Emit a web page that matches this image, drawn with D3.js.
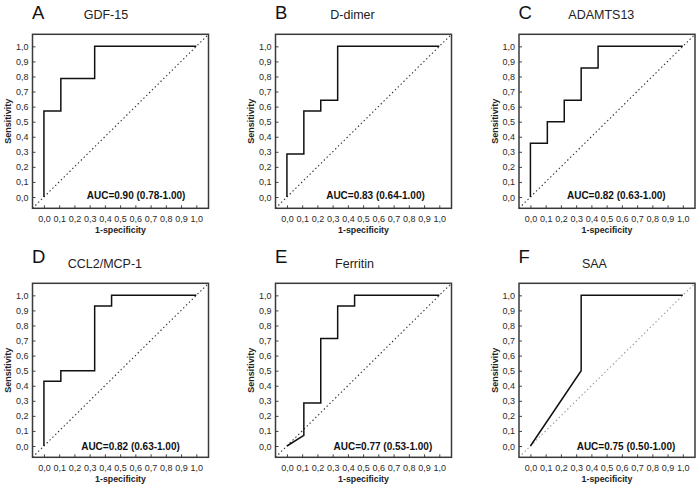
<!DOCTYPE html>
<html>
<head>
<meta charset="utf-8">
<script src="https://cdn.jsdelivr.net/npm/d3@7"></script>
<style>
  body { margin: 0; background: #fff; }
  svg { display: block; font-family: "Liberation Sans", Arial, sans-serif; }
</style>
</head>
<body>
<svg id="chart"></svg>
<script>
// panel ids and marker names
const letters = ["A", "B", "C", "D", "E", "F"];
const markers = ["GDF-15", "D-dimer", "ADAMTS13", "CCL2/MCP-1", "Ferritin", "SAA"];
const aucLabels = [
  "AUC=0.90 (0.78-1.00)",
  "AUC=0.83 (0.64-1.00)",
  "AUC=0.82 (0.63-1.00)",
  "AUC=0.82 (0.63-1.00)",
  "AUC=0.77 (0.53-1.00)",
  "AUC=0.75 (0.50-1.00)"
];

// ROC points, 1-specificity (x) and sensitivity (y)
const rocX = [
  [0, 0, 0.111, 0.111, 0.333, 0.333, 1],
  [0, 0, 0.111, 0.111, 0.222, 0.222, 0.333, 0.333, 1],
  [0, 0, 0.111, 0.111, 0.222, 0.222, 0.333, 0.333, 0.444, 0.444, 1],
  [0, 0, 0.111, 0.111, 0.333, 0.333, 0.444, 0.444, 1],
  [0, 0.111, 0.111, 0.222, 0.222, 0.333, 0.333, 0.444, 0.444, 1],
  [0, 0.333, 0.333, 1]
];
const rocY = [
  [0, 0.571, 0.571, 0.786, 0.786, 1, 1],
  [0, 0.286, 0.286, 0.571, 0.571, 0.643, 0.643, 1, 1],
  [0, 0.357, 0.357, 0.5, 0.5, 0.643, 0.643, 0.857, 0.857, 1, 1],
  [0, 0.429, 0.429, 0.5, 0.5, 0.929, 0.929, 1, 1],
  [0, 0.071, 0.286, 0.286, 0.714, 0.714, 0.929, 0.929, 1, 1],
  [0, 0.5, 1, 1]
];
const tickValues = [0, 0.1, 0.2, 0.3, 0.4, 0.5, 0.6, 0.7, 0.8, 0.9, 1.0];

// layout
const width = 699, height = 488;
const colX = [32.5, 275.5, 519];
const rowY = [34.3, 283.3];
const W = 176, H = 174;
const titleShift = [-14.6, -11, -5.7, -15.6, -9, -12.6];
const aucShift = [15.6, 12, 9.3, 10, 19.4, 19];
const letterBase = [-15.3, -20.3];
const titleBase = [-15, -15.3];
const aucBase = [-9.5, -7.5];
const diagColor = ["#333", "#333", "#333", "#333", "#333", "#999"];

const comma = d3.formatLocale({decimal: ",", thousands: ".", grouping: [3], currency: ["", ""]}).format(".1f");

const svg = d3.select("#chart").attr("width", width).attr("height", height);

letters.forEach((letter, i) => {
  const col = i % 3, row = Math.floor(i / 3);
  const g = svg.append("g").attr("transform", `translate(${colX[col]}, ${rowY[row]})`);

  const x = d3.scaleLinear().domain([-0.075, 1.08]).range([0, W]);
  const y = d3.scaleLinear().domain([-0.075, 1.08]).range([H, 0]);

  const clipId = "clip" + i;
  g.append("clipPath").attr("id", clipId)
    .append("rect").attr("width", W).attr("height", H);

  // axes: inward ticks, labels outside
  const xAxis = d3.axisBottom(x).tickValues(tickValues).tickSize(-3).tickFormat(comma);
  const yAxis = d3.axisLeft(y).tickValues(tickValues).tickSize(-3).tickFormat(comma);

  const xg = g.append("g").attr("transform", `translate(0, ${H})`).call(xAxis);
  const yg = g.append("g").call(yAxis);
  [xg, yg].forEach(a => {
    a.select(".domain").remove();
    a.selectAll(".tick line").attr("stroke", "#444");
    a.selectAll(".tick text")
      .attr("fill", "#2a2a2a")
      .style("font-size", "9px")
      .style("font-family", "'Liberation Sans', Arial, sans-serif");
  });
  xg.selectAll(".tick text").attr("dy", null).attr("y", 14);
  yg.selectAll(".tick text").attr("x", -4).attr("dy", "0.34em");

  // chance diagonal
  g.append("line")
    .attr("clip-path", `url(#${clipId})`)
    .attr("x1", x(-0.075)).attr("y1", y(-0.075))
    .attr("x2", x(1.08)).attr("y2", y(1.08))
    .attr("stroke", diagColor[i])
    .attr("stroke-width", 1.1)
    .attr("stroke-dasharray", "1.4,2.6");

  // ROC curve
  const pts = rocX[i].map((v, k) => [v, rocY[i][k]]);
  g.append("path")
    .datum(pts)
    .attr("d", d3.line().x(d => x(d[0])).y(d => y(d[1])))
    .attr("fill", "none")
    .attr("stroke", "#111")
    .attr("stroke-width", 1.5);

  // frame
  g.append("rect")
    .attr("width", W).attr("height", H)
    .attr("fill", "none")
    .attr("stroke", "#3a3a3a")
    .attr("stroke-width", 1.5);

  g.append("text")
    .attr("x", W / 2 + aucShift[i]).attr("y", H + aucBase[row])
    .attr("text-anchor", "middle")
    .style("font-size", "10px").style("font-weight", "bold")
    .attr("fill", "#111")
    .text(aucLabels[i]);

  g.append("text")
    .attr("x", W / 2).attr("y", H + 24.7)
    .attr("text-anchor", "middle")
    .style("font-size", "8.8px").style("font-weight", "bold")
    .attr("fill", "#222")
    .text("1-specificity");

  g.append("text")
    .attr("transform", `translate(-21.5, ${H / 2}) rotate(-90)`)
    .attr("text-anchor", "middle")
    .style("font-size", "9px").style("font-weight", "bold")
    .attr("fill", "#222")
    .text("Sensitivity");

  g.append("text")
    .attr("x", -0.5).attr("y", letterBase[row])
    .style("font-size", "18.5px")
    .attr("fill", "#111")
    .text(letter);

  g.append("text")
    .attr("x", W / 2 + titleShift[i]).attr("y", titleBase[row])
    .attr("text-anchor", "middle")
    .style("font-size", "12.5px")
    .attr("fill", "#222")
    .text(markers[i]);
});
</script>
</body>
</html>
